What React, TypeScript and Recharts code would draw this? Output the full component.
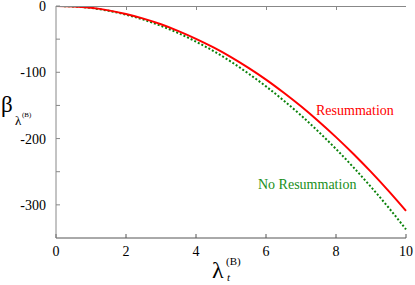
import { LineChart, Line, XAxis, YAxis } from 'recharts'

// lambda_t^(B) sample points
const xValues = [0, 0.5, 1, 1.5, 2, 2.5, 3, 3.5, 4, 4.5, 5, 5.5, 6, 6.5, 7, 7.5, 8, 8.5, 9, 9.5, 10]
// beta with resummation (red, solid)
const resummation = [
  0, -0.6, -2.8, -6.6, -12, -19, -27.5, -37.8, -49.5, -62.5, -77,
  -93.3, -111, -130.5, -151.3, -173.8, -197.8, -223.3, -250.3, -278.9, -309,
]
// beta without resummation (green, dotted)
const noResummation = [
  0, -0.7, -3, -7.3, -13, -20.6, -30, -41, -53.8, -68, -84,
  -102, -121.3, -142.4, -165, -189.6, -215.7, -243.5, -273, -304, -337,
]
const xTicks = [0, 2, 4, 6, 8, 10]
const yTicks = [0, -50, -100, -150, -200, -250, -300]

const data = xValues.map((x, i) => ({ x, res: resummation[i], noRes: noResummation[i] }))

const FONT = '"Liberation Serif", "Times New Roman", Times, "DejaVu Serif", serif'
const W = 415
const H = 285
// plot frame (matches chart margins + axis sizes below)
const PLOT_LEFT = 56
const PLOT_RIGHT = W - 9
const PLOT_TOP = 6

const YTick = (props: any) => {
  const { x, y, payload } = props
  if (payload.value % 100 !== 0) return <g />
  return (
    <text x={x} y={y} dy={5} textAnchor="end" fontSize={14} style={{ fontFamily: FONT }} fill="#000">
      {payload.value}
    </text>
  )
}

const XTick = (props: any) => {
  const { x, y, payload } = props
  return (
    <text x={x} y={y} dy={12} textAnchor="middle" fontSize={14} style={{ fontFamily: FONT }} fill="#000">
      {payload.value}
    </text>
  )
}

export default function App() {
  const xPx = (v: number) => PLOT_LEFT + ((PLOT_RIGHT - PLOT_LEFT) * v) / 10
  return (
    <div style={{ position: 'absolute', left: 0, top: 0, width: W, height: H, background: '#fff', fontFamily: FONT }}>
      <LineChart width={W} height={H} data={data} margin={{ top: PLOT_TOP, right: 9, left: 0, bottom: 0 }}>
        <XAxis
          dataKey="x"
          type="number"
          domain={[0, 10]}
          ticks={xTicks}
          interval={0}
          height={47}
          tickSize={-4}
          tickMargin={10}
          tick={<XTick />}
          axisLine={{ stroke: '#555' }}
          tickLine={{ stroke: '#555' }}
        />
        <YAxis
          type="number"
          domain={[-350, 0]}
          ticks={yTicks}
          interval={0}
          width={PLOT_LEFT}
          tickSize={-4}
          tickMargin={14}
          tick={<YTick />}
          allowDataOverflow
          axisLine={{ stroke: '#888' }}
          tickLine={{ stroke: '#888' }}
        />
        <YAxis
          yAxisId="r"
          orientation="right"
          type="number"
          domain={[-350, 0]}
          ticks={yTicks}
          interval={0}
          width={0}
          tickSize={-4}
          tickFormatter={() => ''}
          axisLine={{ stroke: '#222' }}
          tickLine={{ stroke: '#222' }}
        />
        <Line
          dataKey="noRes"
          type="monotone"
          stroke="#0a820a"
          strokeWidth={2}
          strokeDasharray="2 2"
          dot={false}
          isAnimationActive={false}
        />
        <Line
          dataKey="res"
          type="monotone"
          stroke="#ff0000"
          strokeWidth={2}
          dot={false}
          isAnimationActive={false}
        />
      </LineChart>
      <svg width={W} height={H} style={{ position: 'absolute', left: 0, top: 0, pointerEvents: 'none', fontFamily: FONT }}>
        {/* top frame edge with inward ticks */}
        <line x1={PLOT_LEFT} x2={PLOT_RIGHT} y1={PLOT_TOP + 0.5} y2={PLOT_TOP + 0.5} stroke="#888" />
        {xTicks.slice(1, -1).map((t) => (
          <line key={t} x1={xPx(t) + 0.5} x2={xPx(t) + 0.5} y1={PLOT_TOP} y2={PLOT_TOP + 4} stroke="#888" />
        ))}
        <text x={316} y={115} fontSize={14} fill="#ff0000">Resummation</text>
        <text x={258} y={189} fontSize={14} fill="#1a8f1a">No Resummation</text>
        {/* y label: beta_{lambda^(B)} */}
        <text x={1} y={112} fontSize={23} fill="#000">β</text>
        <text x={15} y={125} fontSize={13} fill="#000">λ</text>
        <text x={22} y={117} fontSize={7} fill="#000">(B)</text>
        {/* x label: lambda_t^(B) */}
        <text x={212} y={278} fontSize={24} fill="#000">λ</text>
        <text x={226} y={265} fontSize={11} fill="#000">(B)</text>
        <text x={227} y={281} fontSize={11} fontStyle="italic" fill="#000">t</text>
      </svg>
    </div>
  )
}
